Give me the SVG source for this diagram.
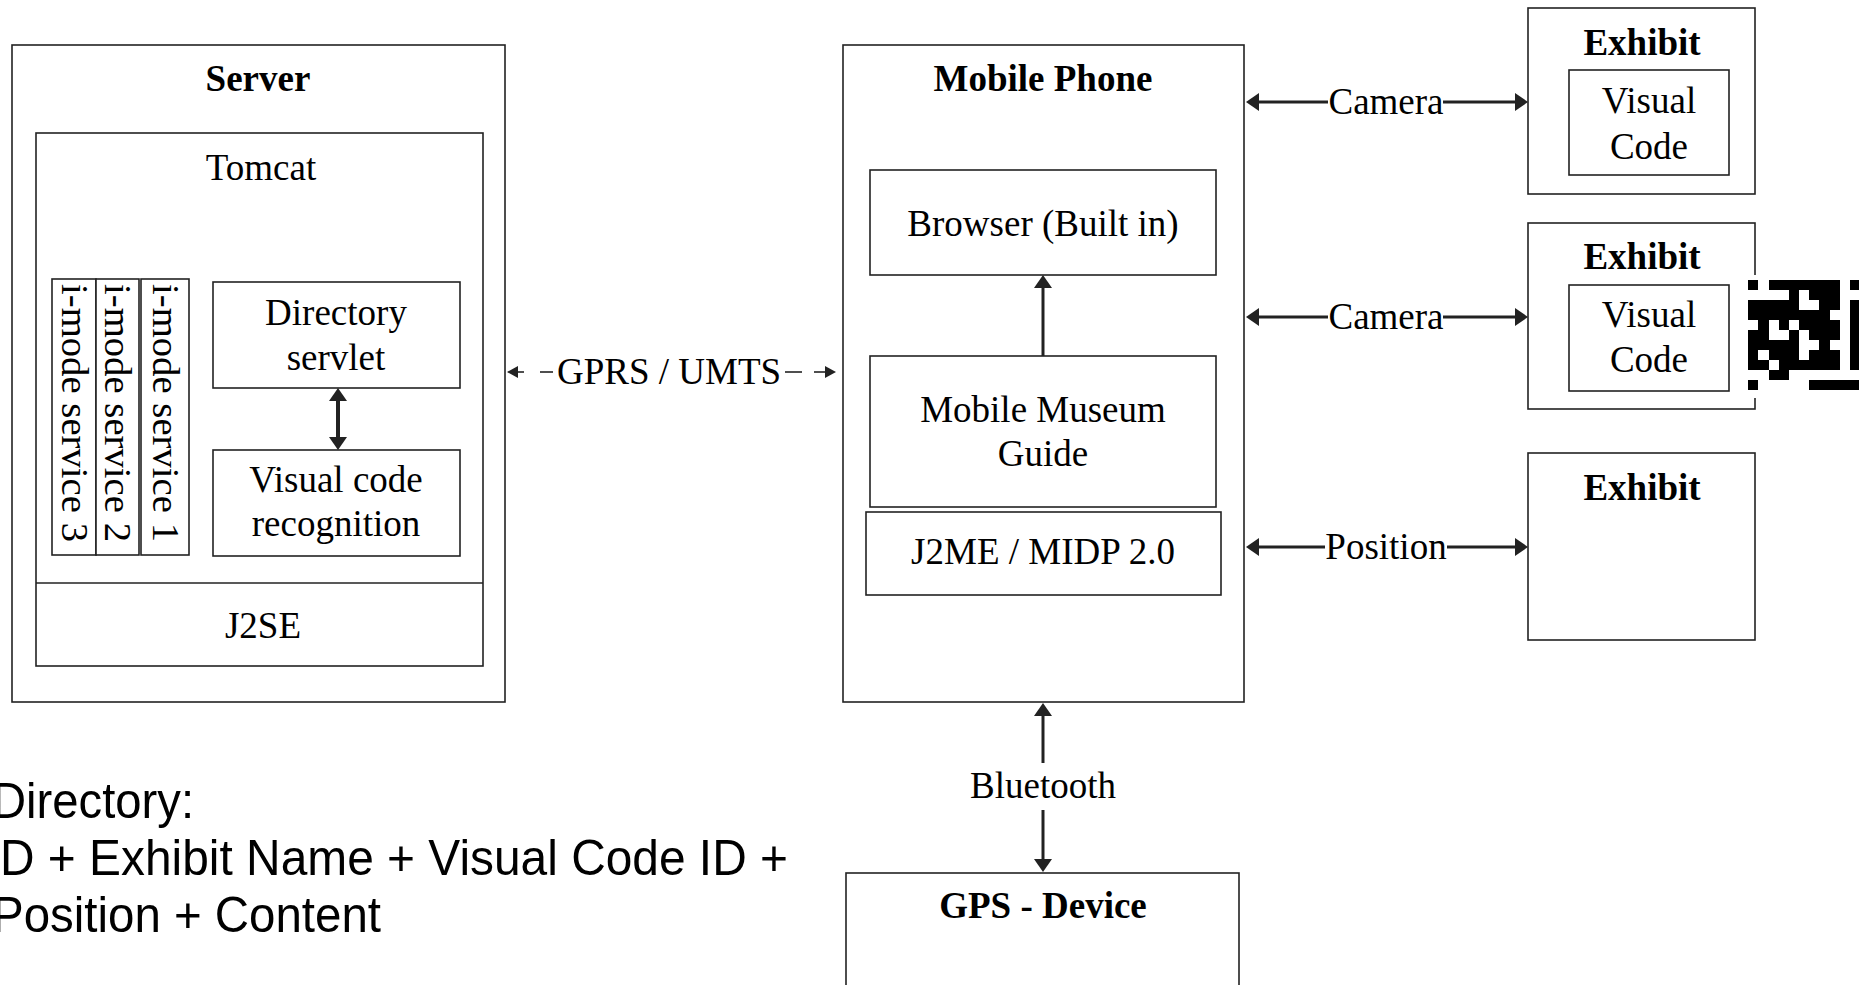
<svg xmlns="http://www.w3.org/2000/svg" width="1859" height="985" viewBox="0 0 1859 985">
<style>
.box{fill:#fff;stroke:#222;stroke-width:1.6}
.t{font-family:"Liberation Serif","Times New Roman",serif;font-size:37px;fill:#000;text-anchor:middle}
.b{font-weight:bold}
.v{text-anchor:start;font-size:38px}
.s{font-family:"Liberation Sans",Arial,sans-serif;font-size:50px;fill:#000}
.c{stroke:#222;stroke-width:3;fill:none}
.d{stroke:#222;stroke-width:1.6;fill:none}
</style>
<defs>
<marker id="ah" markerUnits="userSpaceOnUse" viewBox="0 0 13 18" refX="0" refY="9" markerWidth="13" markerHeight="18" orient="auto-start-reverse">
<path d="M0,0 L13,9 L0,18 Z" fill="#222"/>
</marker>
<marker id="ahs" markerUnits="userSpaceOnUse" viewBox="0 0 11 12" refX="0" refY="6" markerWidth="11" markerHeight="12" orient="auto-start-reverse">
<path d="M0,0 L11,6 L0,12 Z" fill="#222"/>
</marker>
</defs>
<rect width="1859" height="985" fill="#fff"/>

<g id="server">
<rect class="box" x="12" y="45" width="493" height="657"/>
<text class="t b" x="258" y="91">Server</text>
</g>
<g id="tomcat">
<rect class="box" x="36" y="133" width="447" height="533"/>
<line x1="36" y1="583" x2="483" y2="583" stroke="#222" stroke-width="1.6"/>
<text class="t" x="261" y="180">Tomcat</text>
</g>
<g id="j2se">
<text class="t" x="263" y="638">J2SE</text>
</g>
<g id="imode3">
<rect class="box" x="52" y="279" width="44" height="276"/>
<text class="t v" transform="translate(62,284) rotate(90)" textLength="258" lengthAdjust="spacingAndGlyphs">i-mode service 3</text>
</g>
<g id="imode2">
<rect class="box" x="96" y="279" width="43" height="276"/>
<text class="t v" transform="translate(105,284) rotate(90)" textLength="258" lengthAdjust="spacingAndGlyphs">i-mode service 2</text>
</g>
<g id="imode1">
<rect class="box" x="141" y="279" width="48" height="276"/>
<text class="t v" transform="translate(153,284) rotate(90)" textLength="258" lengthAdjust="spacingAndGlyphs">i-mode service 1</text>
</g>
<g id="directory-servlet">
<rect class="box" x="213" y="282" width="247" height="106"/>
<text class="t" x="336" y="325">Directory</text>
<text class="t" x="336" y="370">servlet</text>
</g>
<g id="visual-code-recognition">
<rect class="box" x="213" y="450" width="247" height="106"/>
<text class="t" x="336" y="492">Visual code</text>
<text class="t" x="336" y="536">recognition</text>
</g>

<g id="mobile-phone">
<rect class="box" x="843" y="45" width="401" height="657"/>
<text class="t b" x="1043" y="91">Mobile Phone</text>
</g>
<g id="browser">
<rect class="box" x="870" y="170" width="346" height="105"/>
<text class="t" x="1043" y="236">Browser (Built in)</text>
</g>
<g id="museum-guide">
<rect class="box" x="870" y="356" width="346" height="151"/>
<text class="t" x="1043" y="422">Mobile Museum</text>
<text class="t" x="1043" y="466">Guide</text>
</g>
<g id="j2me">
<rect class="box" x="866" y="512" width="355" height="83"/>
<text class="t" x="1043" y="564">J2ME / MIDP 2.0</text>
</g>

<g id="gps-device">
<rect class="box" x="846" y="873" width="393" height="130"/>
<text class="t b" x="1043" y="918">GPS - Device</text>
</g>

<g id="exhibit1">
<rect class="box" x="1528" y="8" width="227" height="186"/>
<text class="t b" x="1642" y="55">Exhibit</text>
<rect class="box" x="1569" y="70" width="160" height="105"/>
<text class="t" x="1649" y="113">Visual</text>
<text class="t" x="1649" y="159">Code</text>
</g>
<g id="exhibit2">
<rect class="box" x="1528" y="223" width="227" height="186"/>
<text class="t b" x="1642" y="269">Exhibit</text>
<rect class="box" x="1569" y="285" width="160" height="106"/>
<text class="t" x="1649" y="327">Visual</text>
<text class="t" x="1649" y="372">Code</text>
</g>
<g id="exhibit3">
<rect class="box" x="1528" y="453" width="227" height="187"/>
<text class="t b" x="1642" y="500">Exhibit</text>
</g>

<g id="visual-code-image">
<rect x="1743" y="275" width="116" height="123" fill="#fff"/>
<g transform="translate(1748.3,280.3) scale(10.17,10)" fill="#000" shape-rendering="crispEdges">
<rect x="0" y="0" width="1" height="1"/><rect x="2" y="0" width="7" height="1"/><rect x="10" y="0" width="1" height="1"/>
<rect x="4" y="1" width="1" height="1"/><rect x="6" y="1" width="3" height="1"/>
<rect x="0" y="2" width="5" height="1"/><rect x="7" y="2" width="2" height="1"/>
<rect x="0" y="3" width="8" height="1"/>
<rect x="1" y="4" width="1" height="1"/><rect x="3" y="4" width="1" height="1"/><rect x="5" y="4" width="4" height="1"/>
<rect x="0" y="5" width="2" height="1"/><rect x="4" y="5" width="1" height="1"/><rect x="6" y="5" width="3" height="1"/>
<rect x="0" y="6" width="5" height="1"/><rect x="7" y="6" width="1" height="1"/>
<rect x="0" y="7" width="1" height="1"/><rect x="2" y="7" width="3" height="1"/><rect x="6" y="7" width="3" height="1"/>
<rect x="0" y="8" width="2" height="1"/><rect x="3" y="8" width="6" height="1"/>
<rect x="2" y="9" width="2" height="1"/>
<rect x="10" y="2" width="1" height="7"/>
<rect x="0" y="10" width="1" height="1"/><rect x="6" y="10" width="5" height="1"/>
</g>
</g>

<g id="connectors">
<line class="c" x1="338" y1="401" x2="338" y2="437" marker-start="url(#ah)" marker-end="url(#ah)" style="stroke-width:4"/>
<line class="c" x1="1043" y1="356" x2="1043" y2="288" marker-end="url(#ah)"/>
<line class="d" x1="518" y1="372" x2="524" y2="372" marker-start="url(#ahs)"/>
<line class="d" x1="540" y1="372" x2="553" y2="372"/>
<text class="t" x="669" y="384">GPRS / UMTS</text>
<line class="d" x1="785" y1="372" x2="802" y2="372"/>
<line class="d" x1="814" y1="372" x2="825" y2="372" marker-end="url(#ahs)"/>
<line class="c" x1="1259" y1="102" x2="1328" y2="102" marker-start="url(#ah)"/>
<text class="t" x="1386" y="114">Camera</text>
<line class="c" x1="1443" y1="102" x2="1515" y2="102" marker-end="url(#ah)"/>
<line class="c" x1="1259" y1="317" x2="1328" y2="317" marker-start="url(#ah)"/>
<text class="t" x="1386" y="329">Camera</text>
<line class="c" x1="1443" y1="317" x2="1515" y2="317" marker-end="url(#ah)"/>
<line class="c" x1="1259" y1="547" x2="1325" y2="547" marker-start="url(#ah)"/>
<text class="t" x="1386" y="559">Position</text>
<line class="c" x1="1447" y1="547" x2="1515" y2="547" marker-end="url(#ah)"/>
<line class="c" x1="1043" y1="716" x2="1043" y2="763" marker-start="url(#ah)"/>
<text class="t" x="1043" y="798">Bluetooth</text>
<line class="c" x1="1043" y1="810" x2="1043" y2="859" marker-end="url(#ah)"/>
</g>

<g id="directory-note">
<text class="s" x="-8" y="818" textLength="202" lengthAdjust="spacingAndGlyphs">Directory:</text>
<text class="s" x="0" y="875" textLength="788" lengthAdjust="spacingAndGlyphs">D + Exhibit Name + Visual Code ID +</text>
<text class="s" x="-8" y="932" textLength="389" lengthAdjust="spacingAndGlyphs">Position + Content</text>
</g>
</svg>
